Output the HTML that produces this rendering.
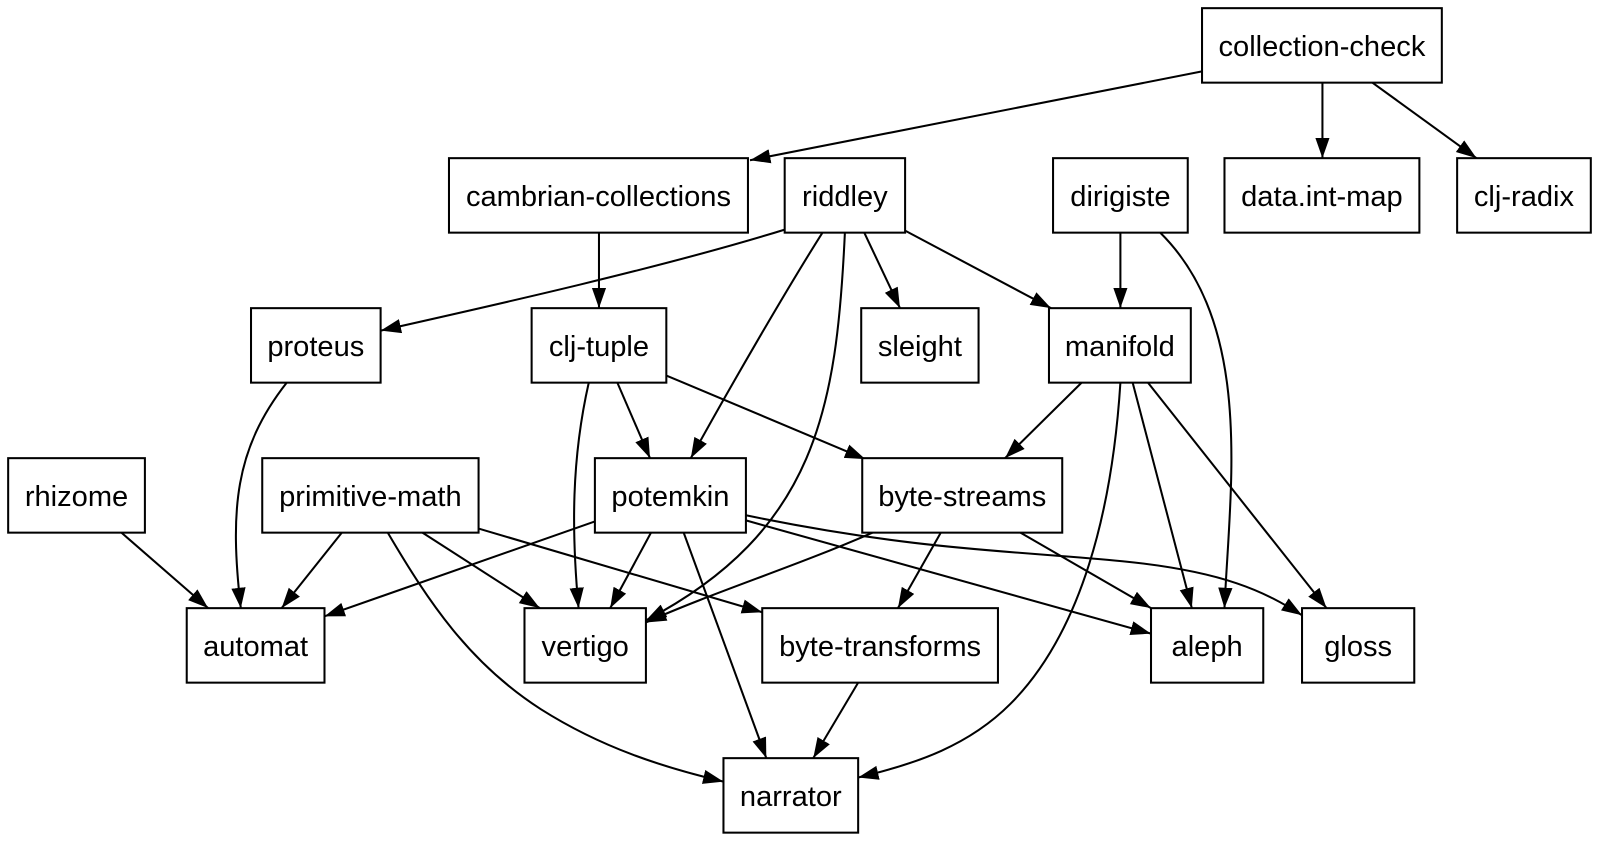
<!DOCTYPE html>
<html><head><meta charset="utf-8"><style>
html,body{margin:0;padding:0;background:#fff;}
svg{display:block;}
text{font-family:"Liberation Sans",Helvetica,Arial,sans-serif;font-size:28.5px;fill:#000;}
rect{fill:#fff;stroke:#000;stroke-width:2;}
path.e{fill:none;stroke:#000;stroke-width:2;}
</style></head><body>
<svg width="1600" height="842" viewBox="0 0 1600 842" xmlns="http://www.w3.org/2000/svg">
<defs><marker id="a" markerUnits="userSpaceOnUse" markerWidth="22" markerHeight="16" refX="20" refY="7" orient="auto"><path d="M0,0 L20,7 L0,14 z" fill="#000"/></marker></defs>
<g transform="scale(1.0204)">
<g marker-end="url(#a)">
<path class="e" d="M1178,70 L735,157"/>
<path class="e" d="M1296,81 L1296,155"/>
<path class="e" d="M1345,81 L1447,155"/>
<path class="e" d="M587,228 L587,302"/>
<path class="e" d="M769,225 C650,262 480,300 373,324"/>
<path class="e" d="M806,228 C770,285 715,380 677,449"/>
<path class="e" d="M828,228 C820,400 800,520 633,608"/>
<path class="e" d="M847,228 L882,302"/>
<path class="e" d="M887,226 L1030,302"/>
<path class="e" d="M1098,228 L1098,302"/>
<path class="e" d="M1137,228 C1230,320 1205,480 1200,596"/>
<path class="e" d="M281,375 C230,440 225,500 236,596"/>
<path class="e" d="M605,375 L637,449"/>
<path class="e" d="M577,375 C560,450 560,520 567,596"/>
<path class="e" d="M653,368 L848,450"/>
<path class="e" d="M1060,375 L985,449"/>
<path class="e" d="M1098,375 C1090,500 1060,620 990,690 C950,730 900,748 841,762"/>
<path class="e" d="M1110,375 L1168,596"/>
<path class="e" d="M1125,375 L1300,596"/>
<path class="e" d="M119,522 L204,596"/>
<path class="e" d="M335,522 L276,596"/>
<path class="e" d="M414,522 L529,596"/>
<path class="e" d="M469,518 L747,600"/>
<path class="e" d="M380,522 C420,590 460,650 530,695 C590,733 650,752 709,766"/>
<path class="e" d="M583,511 L318,604"/>
<path class="e" d="M638,522 L598,596"/>
<path class="e" d="M670,522 L751,743"/>
<path class="e" d="M731,510 L1128,621"/>
<path class="e" d="M731,505 C900,540 1000,540 1100,550 C1200,560 1240,580 1276,603"/>
<path class="e" d="M855,522 C780,555 700,580 633,610"/>
<path class="e" d="M922,522 L880,596"/>
<path class="e" d="M1000,522 L1128,596"/>
<path class="e" d="M841,669 L797,743"/>
</g>
<g text-anchor="middle">
<rect x="1178" y="8" width="235" height="73"/><text x="1295.5" y="55">collection-check</text>
<rect x="440" y="155" width="293" height="73"/><text x="586.5" y="202">cambrian-collections</text>
<rect x="769" y="155" width="118" height="73"/><text x="828" y="202">riddley</text>
<rect x="1032" y="155" width="132" height="73"/><text x="1098" y="202">dirigiste</text>
<rect x="1200" y="155" width="191" height="73"/><text x="1295.5" y="202">data.int-map</text>
<rect x="1428" y="155" width="131" height="73"/><text x="1493.5" y="202">clj-radix</text>
<rect x="246" y="302" width="127" height="73"/><text x="309.5" y="349">proteus</text>
<rect x="521" y="302" width="132" height="73"/><text x="587" y="349">clj-tuple</text>
<rect x="844" y="302" width="115" height="73"/><text x="901.5" y="349">sleight</text>
<rect x="1028" y="302" width="139" height="73"/><text x="1097.5" y="349">manifold</text>
<rect x="8" y="449" width="134" height="73"/><text x="75" y="496">rhizome</text>
<rect x="257" y="449" width="212" height="73"/><text x="363" y="496">primitive-math</text>
<rect x="583" y="449" width="148" height="73"/><text x="657" y="496">potemkin</text>
<rect x="845" y="449" width="196" height="73"/><text x="943" y="496">byte-streams</text>
<rect x="183" y="596" width="135" height="73"/><text x="250.5" y="643">automat</text>
<rect x="514" y="596" width="119" height="73"/><text x="573.5" y="643">vertigo</text>
<rect x="747" y="596" width="231" height="73"/><text x="862.5" y="643">byte-transforms</text>
<rect x="1128" y="596" width="110" height="73"/><text x="1183" y="643">aleph</text>
<rect x="1276" y="596" width="110" height="73"/><text x="1331" y="643">gloss</text>
<rect x="709" y="743" width="132" height="73"/><text x="775" y="790">narrator</text>
</g>
</g>
</svg>
</body></html>
